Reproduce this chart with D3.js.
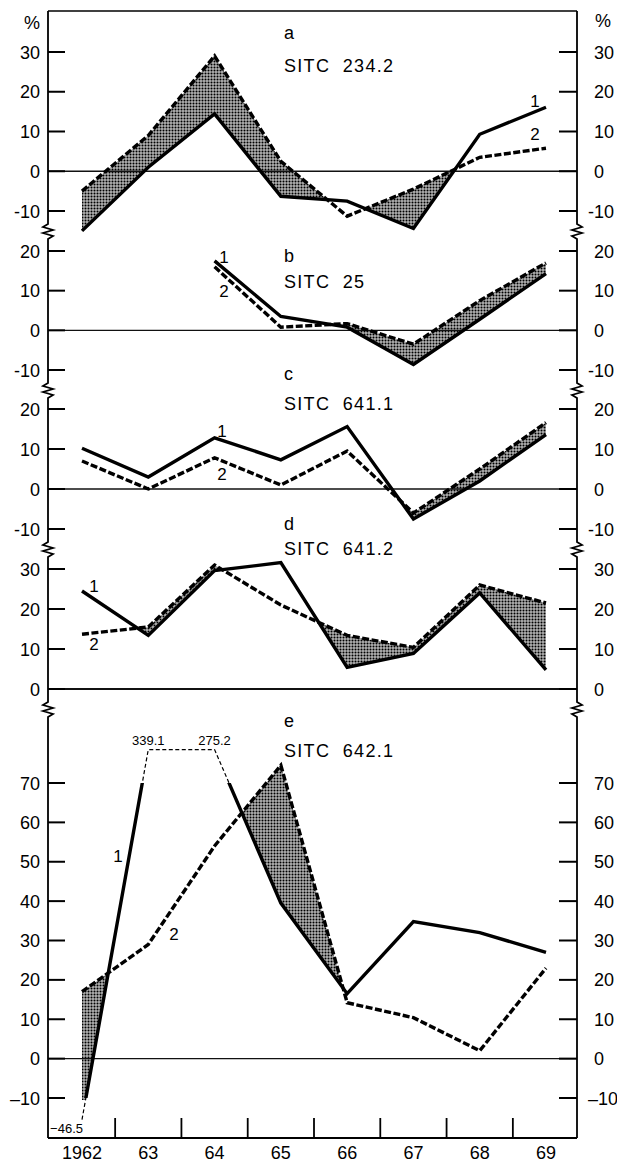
<!DOCTYPE html>
<html>
<head>
<meta charset="utf-8">
<script src="https://cdn.jsdelivr.net/npm/d3@7"></script>
<style>
html, body { margin: 0; padding: 0; background: #fff; }
svg { display: block; font-family: "Liberation Sans", Arial, Helvetica, sans-serif; }
</style>
</head>
<body>
<div id="graph"></div>
<script>
// years on the x axis
const years = [1962, 1963, 1964, 1965, 1966, 1967, 1968, 1969];
const yearLabels = ["1962", "63", "64", "65", "66", "67", "68", "69"];

// panel a  SITC 234.2
const a1 = [-15, 1, 14.4, -6.3, -7.5, -14.4, 9.3, 16.1];
const a2 = [-5, 9, 29, 2.5, -11.3, -4.5, 3.5, 5.8];
// panel b  SITC 25
const b1 = [null, null, 17.5, 3.5, 0.8, -8.6, 2.8, 14.3];
const b2 = [null, null, 16, 0.8, 1.7, -3.5, 7.5, 17];
// panel c  SITC 641.1
const c1 = [10.2, 3, 12.8, 7.3, 15.6, -7.5, 2, 13.6];
const c2 = [7, 0, 7.8, 1, 9.5, -6, 5, 16.6];
// panel d  SITC 641.2
const d1 = [24.5, 13.4, 29.6, 31.6, 5.4, 8.9, 24, 4.8];
const d2 = [13.7, 15.5, 31, 21, 13.4, 10.4, 26, 21.5];
// panel e  SITC 642.1 (series 1 runs off scale in 1962-64)
const e1 = [-46.5, 339.1, 275.2, 39.5, 16.5, 34.8, 32, 27];
const e2 = [17, 29, 54, 74.5, 14.2, 10.4, 2, 23];

// tick labels
const ticksA = [-10, 0, 10, 20, 30];
const ticksB = [-10, 0, 10, 20];
const ticksC = [-10, 0, 10, 20];
const ticksD = [0, 10, 20, 30];
const ticksE = [-10, 0, 10, 20, 30, 40, 50, 60, 70];

const panelLetters = ["a", "b", "c", "d", "e"];
const panelCodes = ["SITC  234.2", "SITC  25", "SITC  641.1", "SITC  641.2", "SITC  642.1"];

// layout
const W = 617, H = 1164;
const xL = 48, xR = 577, yTopLine = 11, yBottomLine = 1138;
const breaks = [231, 390, 549, 709];

const panels = [
  { s1: a1, s2: a2, ticks: ticksA, dom: [-10, 30], rng: [211, 52], letterY: 39, codeY: 72, lab1: [535, 107], lab2: [535, 140], minus: "-" },
  { s1: b1, s2: b2, ticks: ticksB, dom: [-10, 20], rng: [370, 251], letterY: 262, codeY: 288, lab1: [224, 263], lab2: [224, 297], minus: "-" },
  { s1: c1, s2: c2, ticks: ticksC, dom: [-10, 20], rng: [529, 409], letterY: 380, codeY: 410, lab1: [222, 437], lab2: [222, 480], minus: "-" },
  { s1: d1, s2: d2, ticks: ticksD, dom: [0, 30], rng: [689, 569], letterY: 530, codeY: 555, lab1: [94, 592], lab2: [94, 650], minus: "-" },
  { s1: e1, s2: e2, ticks: ticksE, dom: [-10, 70], rng: [1098, 783], letterY: 727, codeY: 757, lab1: [118, 862], lab2: [174, 940], minus: "\u2013", cap: [-15.5, 78.5] }
];

const svg = d3.select("#graph").append("svg")
  .attr("width", W)
  .attr("height", H);

const defs = svg.append("defs");
const pat = defs.append("pattern")
  .attr("id", "dots")
  .attr("width", 3).attr("height", 3)
  .attr("patternUnits", "userSpaceOnUse");
pat.append("rect").attr("width", 3).attr("height", 3).attr("fill", "#fff");
pat.append("rect").attr("x", 0.4).attr("y", 0.4).attr("width", 2.2).attr("height", 2.2).attr("fill", "#000");

const x = d3.scaleLinear().domain([1962, 1969]).range([82, 546]);

// points for the shaded band where series 2 lies above series 1
function shadeData(s1, s2) {
  const pts = [];
  years.forEach((yr, i) => {
    if (s1[i] == null || s2[i] == null) return;
    if (pts.length) {
      const p = pts[pts.length - 1];
      const d0 = p.v2 - p.v1, d1 = s2[i] - s1[i];
      if (d0 * d1 < 0) {
        const t = d0 / (d0 - d1);
        const v = p.v1 + t * (s1[i] - p.v1);
        pts.push({ yr: p.yr + t * (yr - p.yr), v1: v, v2: v });
      }
    }
    pts.push({ yr: yr, v1: s1[i], v2: s2[i] });
  });
  return pts;
}

panels.forEach((p, k) => {
  const y = d3.scaleLinear().domain(p.dom).range(p.rng);
  const capF = p.cap ? (v => Math.max(p.cap[0], Math.min(p.cap[1], v))) : (v => v);
  const s1 = p.s1.map(v => v == null ? null : capF(v));
  const data1 = years.map((yr, i) => ({ yr, v: s1[i] })).filter(d => d.v != null);
  const data2 = years.map((yr, i) => ({ yr, v: p.s2[i] })).filter(d => d.v != null);
  const g = svg.append("g");

  // shading
  const area = d3.area()
    .x(d => x(d.yr))
    .y0(d => y(d.v1))
    .y1(d => y(Math.max(d.v1, d.v2)));
  const shade = g.append("path")
    .attr("d", area(shadeData(s1, p.s2)))
    .attr("fill", "url(#dots)")
    .attr("stroke", "none");
  if (p.cap) {
    defs.append("clipPath").attr("id", "clipShade" + k)
      .append("rect").attr("x", 0).attr("y", 0).attr("width", W).attr("height", y(p.dom[0]) + 2);
    shade.attr("clip-path", "url(#clipShade" + k + ")");
  }

  // zero line
  g.append("line")
    .attr("x1", xL).attr("x2", xR)
    .attr("y1", y(0)).attr("y2", y(0))
    .attr("stroke", "#111").attr("stroke-width", k === 3 ? 2 : 1.4);

  const line = d3.line().x(d => x(d.yr)).y(d => y(d.v));

  // series 2 dashed
  g.append("path")
    .attr("d", line(data2))
    .attr("fill", "none")
    .attr("stroke", "#000")
    .attr("stroke-width", 3.4)
    .attr("stroke-dasharray", "7 2.5");

  // series 1 solid
  const l1 = g.append("path")
    .attr("d", line(data1))
    .attr("fill", "none")
    .attr("stroke", "#000")
    .attr("stroke-width", 3.4)
    .attr("stroke-linejoin", "miter");

  if (p.cap) {
    const yHi = y(p.dom[1]), yLo = y(p.dom[0]);
    defs.append("clipPath").attr("id", "clipIn" + k)
      .append("rect").attr("x", 0).attr("y", yHi).attr("width", W).attr("height", yLo - yHi);
    const cOut = defs.append("clipPath").attr("id", "clipOut" + k);
    cOut.append("rect").attr("x", 0).attr("y", 0).attr("width", W).attr("height", yHi);
    cOut.append("rect").attr("x", 0).attr("y", yLo).attr("width", W).attr("height", H - yLo);
    l1.attr("clip-path", "url(#clipIn" + k + ")");
    g.append("path")
      .attr("d", line(data1))
      .attr("fill", "none")
      .attr("stroke", "#000")
      .attr("stroke-width", 1.2)
      .attr("stroke-dasharray", "4 2.5")
      .attr("clip-path", "url(#clipOut" + k + ")");

    // off-scale values written at the capped points
    p.s1.forEach((v, i) => {
      if (v == null || v === s1[i]) return;
      const top = v > p.dom[1];
      g.append("text")
        .attr("x", top ? x(years[i]) : x(years[i]) + 1)
        .attr("y", top ? y(s1[i]) - 5 : y(s1[i]) + 13)
        .attr("text-anchor", top ? "middle" : "end")
        .attr("font-size", 13)
        .text(v < 0 ? "\u2212" + d3.format(".1f")(-v) : d3.format(".1f")(v));
    });
  }

  // ticks and labels, left and right
  p.ticks.forEach(t => {
    const label = t < 0 ? p.minus + Math.abs(t) : String(t);
    g.append("line").attr("x1", xL).attr("x2", xL + 17).attr("y1", y(t)).attr("y2", y(t))
      .attr("stroke", "#000").attr("stroke-width", 2);
    g.append("line").attr("x1", xR - 18).attr("x2", xR).attr("y1", y(t)).attr("y2", y(t))
      .attr("stroke", "#000").attr("stroke-width", 2);
    g.append("text").attr("x", 40).attr("y", y(t) + 6.5)
      .attr("text-anchor", "end").attr("font-size", 18).text(label);
    g.append("text").attr("x", t < 0 ? 588 : 594).attr("y", y(t) + 6.5)
      .attr("text-anchor", "start").attr("font-size", 18).text(label);
  });

  // panel titles
  g.append("text").attr("x", 284).attr("y", p.letterY)
    .attr("font-size", 18).text(panelLetters[k]);
  g.append("text").attr("x", 284).attr("y", p.codeY)
    .attr("font-size", 18).attr("letter-spacing", 1.3)
    .attr("xml:space", "preserve").style("white-space", "pre")
    .text(panelCodes[k]);

  // series numbers
  g.append("text").attr("x", p.lab1[0]).attr("y", p.lab1[1])
    .attr("text-anchor", "middle").attr("font-size", 17).text("1");
  g.append("text").attr("x", p.lab2[0]).attr("y", p.lab2[1])
    .attr("text-anchor", "middle").attr("font-size", 17).text("2");
});

// axes with break marks
function axisPath(ax, dir) {
  let d = `M${ax},${yTopLine}`;
  breaks.forEach(b => {
    d += `L${ax},${b - 10}L${ax},${b - 7}L${ax - 5 * dir},${b - 4}L${ax + 5 * dir},${b - 1}` +
         `L${ax - 5 * dir},${b + 2}L${ax + 5 * dir},${b + 5}L${ax},${b + 8}`;
  });
  d += `L${ax},${yBottomLine}`;
  return d;
}
svg.append("path").attr("d", axisPath(xL, 1))
  .attr("fill", "none").attr("stroke", "#000").attr("stroke-width", 1.8);
svg.append("path").attr("d", axisPath(xR, -1))
  .attr("fill", "none").attr("stroke", "#000").attr("stroke-width", 1.8);

// top border and bottom axis
svg.append("line").attr("x1", xL).attr("x2", xR).attr("y1", yTopLine).attr("y2", yTopLine)
  .attr("stroke", "#000").attr("stroke-width", 1.5);
svg.append("line").attr("x1", xL).attr("x2", xR).attr("y1", yBottomLine).attr("y2", yBottomLine)
  .attr("stroke", "#000").attr("stroke-width", 2);

// year boundary ticks and year labels
years.slice(0, -1).forEach(yr => {
  svg.append("line")
    .attr("x1", x(yr + 0.5)).attr("x2", x(yr + 0.5))
    .attr("y1", yBottomLine - 20).attr("y2", yBottomLine)
    .attr("stroke", "#000").attr("stroke-width", 1.8);
});
years.forEach((yr, i) => {
  svg.append("text")
    .attr("x", x(yr)).attr("y", 1159)
    .attr("text-anchor", "middle").attr("font-size", 18)
    .text(yearLabels[i]);
});

// percent signs
svg.append("text").attr("x", 40).attr("y", 29).attr("text-anchor", "end").attr("font-size", 18).text("%");
svg.append("text").attr("x", 595).attr("y", 27).attr("text-anchor", "start").attr("font-size", 18).text("%");
</script>
</body>
</html>
